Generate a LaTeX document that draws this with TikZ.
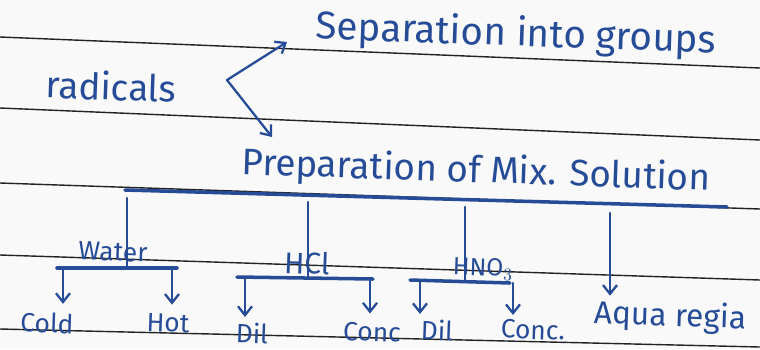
\documentclass[tikz,border=0pt]{standalone}
\usepackage{fontspec}
\setmainfont{Fira Sans}
\usetikzlibrary{arrows.meta}
\definecolor{ink}{RGB}{38,76,152}
\definecolor{rulegray}{RGB}{35,35,35}
\tikzset{
  txt/.style={text=ink, inner sep=0pt, rotate=-2},
  big/.style={font=\fontsize{21}{22}\selectfont},
  small/.style={font=\fontsize{15}{16}\selectfont},
  pen/.style={ink, line width=1.3pt, line cap=round},
  bar/.style={ink, line width=2pt, line cap=round},
  arr/.style={pen, -{Straight Barb[length=5pt,width=8pt]}},
}
\begin{document}
\begin{tikzpicture}[x=0.2mm, y=-0.2mm]
    \useasboundingbox (0,0) rectangle (760,349);
    \fill[gray!5] (0,0) rectangle (760,349);
    % ruled lines of the page
    \foreach \a/\b in {37/68, 108/140, 183/209, 255/280, 329/347} {
        \draw[rulegray, line width=0.8pt] (0,\a) -- (760,\b);
    };
    % top part
    \node[txt, big] (rad) at (111,86) {radicals};
    \node[txt, big, font=\fontsize{22}{23}\selectfont] (sep) at (516,35) {Separation into groups};
    \node[txt, big] (prep) at (476,172) {Preparation of Mix. Solution};
    \coordinate (fork) at (227,80);
    \coordinate (up) at (287,42);
    \coordinate (down) at (272,137);
    \draw[arr] (fork) -- (up);
    \draw[arr] (fork) -- (down);
    % main bar
    \coordinate (mainL) at (125,190);
    \coordinate (mainR) at (727,207);
    \draw[bar] (mainL) -- (mainR);
    % second row
    \node[txt, small] (water) at (113,252) {Water};
    \node[txt, font=\fontsize{17}{18}\selectfont] (hcl) at (307,263) {HCl};
    \node[txt, font=\fontsize{14}{15}\selectfont] (hno) at (483,269) {HNO$_3$};
    \node[txt, font=\fontsize{18}{19}\selectfont] (aqua) at (670,317) {Aqua regia};
    \node[txt, small] (cold) at (47,323) {Cold};
    \node[txt, small] (hot) at (168,323) {Hot};
    \node[txt, small] (dil1) at (252,333) {Dil};
    \node[txt, small] (conc1) at (372,332) {Conc};
    \node[txt, small] (dil2) at (437,330) {Dil};
    \node[txt, small] (conc2) at (533,330) {Conc.};
    % drops from the main bar
    \coordinate (a1) at (610,213);
    \draw[pen] (127,198) -- (127,268);
    \draw[pen] (308,202) -- (308,277);
    \draw[pen] (465,207) -- (465,281);
    \draw[arr, shorten >=3pt] (a1) -- (a1 |- aqua.north);
    % water
    \coordinate (w1) at (63,268);
    \coordinate (w2) at (172,268);
    \draw[bar] (57,268) -- (177,268);
    \draw[arr, shorten >=5pt] (w1) -- (w1 |- cold.north);
    \draw[arr, shorten >=5pt] (w2) -- (w2 |- hot.north);
    % hcl
    \coordinate (h1) at (245,278);
    \coordinate (h2) at (370,279);
    \draw[bar] (237,277) -- (373,279);
    \draw[arr, shorten >=3pt] (h1) -- (h1 |- dil1.north);
    \draw[arr, shorten >=5pt] (h2) -- (h2 |- conc1.north);
    % hno3
    \coordinate (n1) at (420,281);
    \coordinate (n2) at (513,283);
    \draw[bar] (410,280) -- (510,283);
    \draw[arr, shorten >=3pt] (n1) -- (n1 |- dil2.north);
    \draw[arr, shorten >=3pt] (n2) -- (n2 |- conc2.north);
\end{tikzpicture}
\end{document}
